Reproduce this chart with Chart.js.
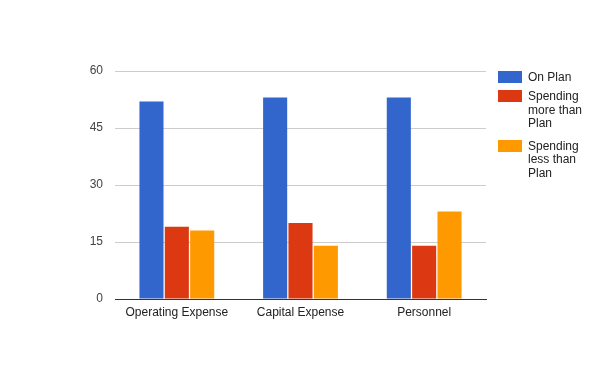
<!DOCTYPE html>
<html>
<head>
<meta charset="utf-8">
<script src="https://cdn.jsdelivr.net/npm/chart.js@4/dist/chart.umd.min.js"></script>
<style>
    html, body { margin: 0; padding: 0; background: #fff; }
    #wrap { position: relative; width: 600px; height: 371px; }
    #legend {
        position: absolute; left: 498px; top: 71px; width: 100px;
        font: 12px "Liberation Sans", Arial, sans-serif; color: #222;
    }
    .item { display: flex; align-items: flex-start; }
    .box { width: 24px; height: 12px; flex: none; margin-top: 0; margin-right: 6px; }
    .txt { width: 64px; line-height: 13.3px; }
</style>
</head>
<body>
<div id="wrap">
    <canvas id="c" width="600" height="371"></canvas>
    <div id="legend"></div>
</div>
<script>
const categories = ['Operating Expense', 'Capital Expense', 'Personnel'];
const seriesNames = ['On Plan', 'Spending more than Plan', 'Spending less than Plan'];
const onPlan = [52, 53, 53];
const moreThanPlan = [19, 20, 14];
const lessThanPlan = [18, 14, 23];
const yTicks = [0, 15, 30, 45, 60];
const colors = ['#3366cc', '#dc3912', '#ff9900'];

const font = { family: '"Liberation Sans", Arial, sans-serif', size: 12 };

const datasets = [onPlan, moreThanPlan, lessThanPlan].map((values, i) => ({
    label: seriesNames[i],
    data: values,
    backgroundColor: colors[i],
    categoryPercentage: 0.615,
    barPercentage: 0.95,
}));

new Chart(document.getElementById('c'), {
    type: 'bar',
    data: { labels: categories, datasets },
    options: {
        responsive: false,
        animation: false,
        layout: { padding: { top: 71, right: 114, left: 0, bottom: 0 } },
        plugins: { legend: { display: false }, tooltip: { enabled: false } },
        scales: {
            x: {
                grid: { display: false, drawTicks: false },
                border: { color: '#333', width: 1 },
                ticks: { font, color: '#222', padding: 6 },
                afterFit: (axis) => { axis.height = 72; },
            },
            y: {
                min: 0,
                max: 60,
                afterBuildTicks: (axis) => { axis.ticks = yTicks.map(v => ({ value: v })); },
                grid: { color: '#cccccc', drawTicks: false },
                border: { display: false },
                ticks: { font, color: '#444', padding: 12 },
                afterFit: (axis) => { axis.width = 115; },
            },
        },
    },
});

// legend drawn as html so the long names can wrap like the original
const legend = document.getElementById('legend');
const gaps = [6, 10, 0];
seriesNames.forEach((name, i) => {
    const item = document.createElement('div');
    item.className = 'item';
    item.style.marginBottom = gaps[i] + 'px';
    const box = document.createElement('div');
    box.className = 'box';
    box.style.background = colors[i];
    const txt = document.createElement('div');
    txt.className = 'txt';
    txt.textContent = name;
    item.appendChild(box);
    item.appendChild(txt);
    legend.appendChild(item);
});
</script>
</body>
</html>
